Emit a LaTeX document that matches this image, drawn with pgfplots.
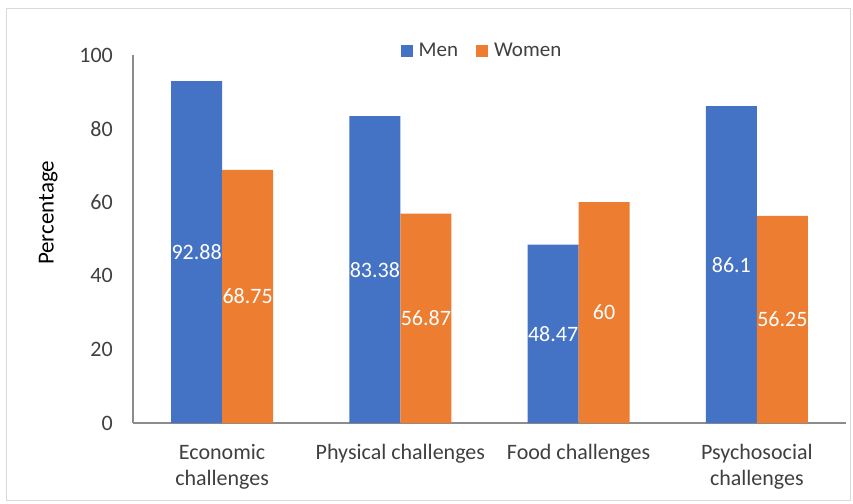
\documentclass[border=0pt]{standalone}
\usepackage{pgfplots}
\pgfplotsset{compat=1.18}
\usepackage{fontspec}
\setmainfont{Carlito}
\definecolor{menblue}{HTML}{4472C4}
\definecolor{womenorange}{HTML}{ED7D31}
\definecolor{axgray}{HTML}{8C8C8C}
\definecolor{framegray}{HTML}{D9D9D9}
\definecolor{txt}{HTML}{404040}
\begin{document}
\begin{tikzpicture}
\useasboundingbox (-133bp,-81bp) rectangle (720bp,423bp);
\fill[white] (-133bp,-81bp) rectangle (720bp,423bp);
\draw[framegray, line width=1bp] (-126bp,-77bp) rectangle (717bp,414bp);
\begin{axis}[
  at={(0,0)}, anchor=south west,
  scale only axis, width=713bp, height=368bp,
  ybar=0pt, bar width=51bp,
  xmin=-0.5, xmax=3.5, ymin=0, ymax=100,
  xtick={0,1,2,3},
  xticklabels={{Economic\\challenges},{Physical challenges},{Food challenges},{Psychosocial\\challenges}},
  ytick={0,20,40,60,80,100},
  /pgf/number format/assume math mode=true,
  axis lines*=left,
  axis line style={draw=axgray, line width=1.2bp},
  major tick length=0pt,
  tick label style={font={\fontsize{22bp}{26bp}\selectfont}, text=txt},
  yticklabel style={inner sep=0pt, anchor=east, xshift=-20bp},
  xticklabel style={inner sep=0pt, anchor=north, align=center, yshift=-21bp},
  ylabel={Percentage},
  ylabel style={at={(axis description cs:-0.119,0.571)}, anchor=center, font={\fontsize{23bp}{27bp}\selectfont}, text=black},
  legend style={at={(axis description cs:0.4895,1.012)}, anchor=center, draw=none, fill=none,
    legend columns=-1, inner sep=0pt, font={\fontsize{21bp}{25bp}\selectfont}, text=txt,
    /tikz/every even column/.append style={column sep=16bp}},
  nodes near coords, point meta=explicit symbolic,
  visualization depends on={y \as \rawy},
  every node near coord/.append style={anchor=center, text=white,
    font={\fontsize{22bp}{26bp}\selectfont}, yshift={-1.84bp*\rawy}},
]
\addplot[fill=menblue, draw=none, legend image code/.code={\fill[menblue] (0bp,-6bp) rectangle (12bp,6bp); \path (16bp,0bp);}]
  coordinates {(0,92.88) [92.88] (1,83.38) [83.38] (2,48.47) [48.47] (3,86.1) [86.1]};
\addplot[fill=womenorange, draw=none, legend image code/.code={\fill[womenorange] (0bp,-6bp) rectangle (12bp,6bp); \path (16bp,0bp);}]
  coordinates {(0,68.75) [68.75] (1,56.87) [56.87] (2,60) [60] (3,56.25) [56.25]};
\legend{Men,Women}
\end{axis}
\end{tikzpicture}
\end{document}
